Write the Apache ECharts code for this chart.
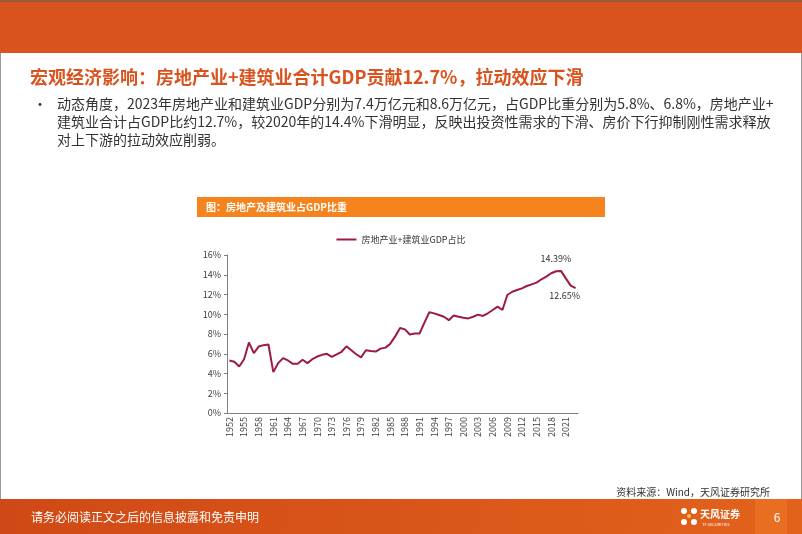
<!DOCTYPE html>
<html>
<head>
<meta charset="utf-8">
<script src="https://cdn.jsdelivr.net/npm/echarts@6/dist/echarts.min.js"></script>
<style>
	html, body { margin: 0; padding: 0; background: #fff; }
	#chart { width: 802px; height: 534px; }
</style>
</head>
<body>
<div id="chart"></div>
<script>
// 年份
const years = []
for (let y = 1952; y <= 2023; y++) years.push(String(y))
// 房地产业+建筑业GDP占比（%）
const shareValues = [
	5.32, 5.19, 4.71, 5.45, 7.14, 6.06, 6.73, 6.87, 6.94, 4.14,
	5.05, 5.56, 5.32, 4.98, 4.98, 5.39, 5.05, 5.45, 5.72, 5.89,
	5.99, 5.68, 5.93, 6.2, 6.75, 6.35, 5.95, 5.64, 6.35, 6.28,
	6.22, 6.52, 6.62, 7.02, 7.76, 8.6, 8.47, 7.95, 8.05, 8.05,
	9.15, 10.2, 10.09, 9.92, 9.75, 9.4, 9.88, 9.75, 9.65, 9.58,
	9.75, 9.96, 9.83, 10.1, 10.43, 10.77, 10.43, 11.95, 12.28, 12.45,
	12.62, 12.86, 13.03, 13.2, 13.54, 13.81, 14.15, 14.35, 14.39, 13.63,
	12.9, 12.65
]
// 标注的年份
const labelYears = ['2020', '2023']
const yTicks = ['0%', '2%', '4%', '6%', '8%', '10%', '12%', '14%', '16%']

const seriesName = '房地产业+建筑业GDP占比'
const titleText = '宏观经济影响：房地产业+建筑业合计GDP贡献12.7%，拉动效应下滑'
const bulletLines = [
	'动态角度，2023年房地产业和建筑业GDP分别为7.4万亿元和8.6万亿元，占GDP比重分别为5.8%、6.8%，房地产业+',
	'建筑业合计占GDP比约12.7%，较2020年的14.4%下滑明显，反映出投资性需求的下滑、房价下行抑制刚性需求释放',
	'对上下游的拉动效应削弱。'
]
const chartTitle = '图：房地产及建筑业占GDP比重'
const sourceText = '资料来源：Wind，天风证券研究所'
const footerText = '请务必阅读正文之后的信息披露和免责申明'

const FONT = '"Noto Sans CJK SC", "Noto Sans", sans-serif'
const lineColor = '#9c1b3f'

let myChart = echarts.init(document.getElementById('chart'))

let seriesData = shareValues.map((v, i) => {
	let item = { value: v }
	if (labelYears.indexOf(years[i]) === 0) {
		item.label = { show: true, position: 'top', offset: [-5, -4] }
	} else if (labelYears.indexOf(years[i]) === 1) {
		item.label = { show: true, position: 'bottom', offset: [-11, -1] }
	}
	return item
})

let graphics = [
	// 顶部色条
	{ type: 'rect', shape: { x: 0, y: 0, width: 802, height: 53 }, style: { fill: '#d9531f' }, z: 1 },
	{ type: 'rect', shape: { x: 0, y: 0, width: 802, height: 2 }, style: { fill: '#9a5a3a' }, z: 2 },
	// 左右边框
	{ type: 'rect', shape: { x: 0, y: 53, width: 1, height: 450 }, style: { fill: '#9a9a9a' } },
	{ type: 'rect', shape: { x: 801, y: 53, width: 1, height: 450 }, style: { fill: '#9a9a9a' } },
	// 标题
	{
		type: 'text', x: 30, y: 77,
		style: { text: titleText, fill: '#d9531f', font: 'bold 18px ' + FONT, textVerticalAlign: 'middle' }
	},
	{
		type: 'text', x: 33, y: 104,
		style: { text: '•', fill: '#333', font: '14px ' + FONT, textVerticalAlign: 'middle' }
	},
	// 图表标题条
	{ type: 'rect', shape: { x: 197, y: 197, width: 408, height: 20 }, style: { fill: '#f5841f' } },
	{
		type: 'text', x: 206, y: 207,
		style: { text: chartTitle, fill: '#fff', font: 'bold 10px ' + FONT, textVerticalAlign: 'middle' }
	},
	// 资料来源
	{
		type: 'text', x: 770, y: 492,
		style: { text: sourceText, fill: '#333', font: '10px ' + FONT, textAlign: 'right', textVerticalAlign: 'middle' }
	},
	// 底部色条
	{
		type: 'rect', shape: { x: 0, y: 499, width: 802, height: 35 },
		style: {
			fill: new echarts.graphic.LinearGradient(0, 0, 1, 0, [
				{ offset: 0, color: '#cf4916' },
				{ offset: 1, color: '#e2621c' }
			])
		}
	},
	{ type: 'rect', shape: { x: 755, y: 499, width: 32, height: 35 }, style: { fill: '#e86f22' } },
	{
		type: 'text', x: 31, y: 517,
		style: { text: footerText, fill: '#fff', font: '12px ' + FONT, textVerticalAlign: 'middle' }
	},
	// logo
	{ type: 'circle', shape: { cx: 684, cy: 511, r: 3 }, style: { fill: '#fff' } },
	{ type: 'circle', shape: { cx: 694, cy: 511, r: 3 }, style: { fill: '#fff' } },
	{ type: 'circle', shape: { cx: 684, cy: 522, r: 3 }, style: { fill: '#fff' } },
	{ type: 'circle', shape: { cx: 694, cy: 522, r: 3 }, style: { fill: '#fff' } },
	{ type: 'circle', shape: { cx: 689, cy: 516, r: 2 }, style: { fill: '#f7c23a' } },
	{
		type: 'text', x: 700, y: 514,
		style: { text: '天风证券', fill: '#fff', font: 'bold 10px ' + FONT, textVerticalAlign: 'middle' }
	},
	{
		type: 'text', x: 702, y: 524,
		style: { text: 'TF SECURITIES', fill: '#fff', font: '4px ' + FONT, textVerticalAlign: 'middle' }
	},
	{
		type: 'text', x: 777, y: 517,
		style: { text: '6', fill: '#fff', font: '12px ' + FONT, textAlign: 'center', textVerticalAlign: 'middle' }
	}
]
bulletLines.forEach((line, i) => {
	graphics.push({
		type: 'text', x: 57, y: 104 + i * 18,
		style: { text: line, fill: '#333', font: '14px ' + FONT, textVerticalAlign: 'middle' }
	})
})

let option = {
	backgroundColor: '#fff',
	animation: false,
	textStyle: { fontFamily: FONT },
	graphic: graphics,
	legend: {
		top: 230,
		left: 'center',
		icon: 'rect',
		itemWidth: 20,
		itemHeight: 2,
		itemGap: 4,
		textStyle: { fontSize: 9, color: '#333' },
		data: [seriesName]
	},
	grid: {
		left: 227,
		top: 255,
		width: 351,
		height: 158
	},
	xAxis: {
		type: 'category',
		data: years,
		boundaryGap: true,
		axisLine: { lineStyle: { color: '#7f7f7f' } },
		axisTick: { interval: 2, alignWithLabel: true, length: 3, lineStyle: { color: '#7f7f7f' } },
		axisLabel: { interval: 2, rotate: 90, fontSize: 9, color: '#404040', margin: 4 }
	},
	yAxis: {
		type: 'value',
		min: 0,
		max: 16,
		interval: 2,
		axisLine: { show: true, lineStyle: { color: '#7f7f7f' } },
		axisTick: { show: true, length: 3, lineStyle: { color: '#7f7f7f' } },
		splitLine: { show: false },
		axisLabel: {
			fontSize: 9,
			color: '#404040',
			margin: 6,
			formatter: (value) => yTicks[value / 2]
		}
	},
	series: [
		{
			name: seriesName,
			type: 'line',
			symbol: 'circle',
			symbolSize: 0,
			showSymbol: true,
			showAllSymbol: true,
			data: seriesData,
			lineStyle: { color: lineColor, width: 2 },
			itemStyle: { color: lineColor },
			label: {
				show: false,
				fontSize: 9,
				color: '#333',
				distance: 4,
				formatter: (p) => p.value.toFixed(2) + '%'
			}
		}
	]
}
myChart.setOption(option)
</script>
</body>
</html>
